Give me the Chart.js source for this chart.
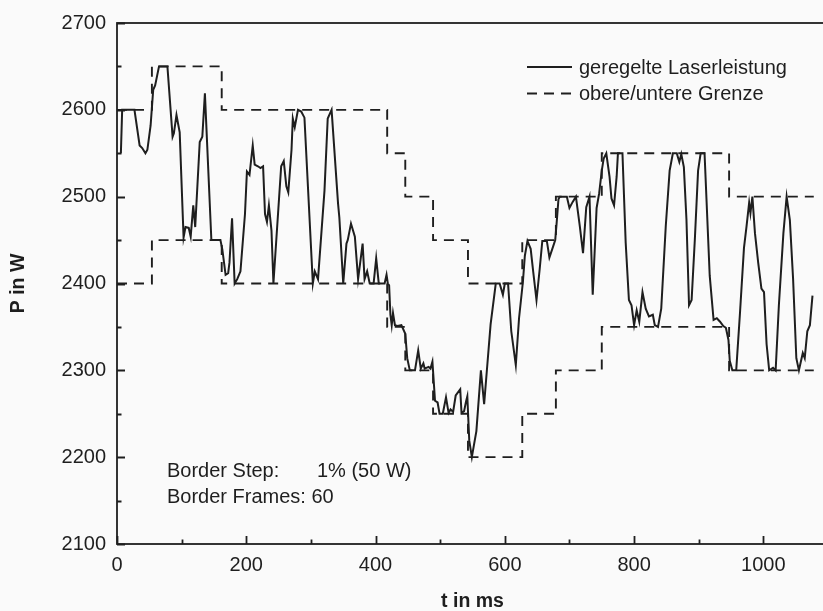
<!DOCTYPE html>
<html>
<head>
<meta charset="utf-8">
<script src="https://cdn.jsdelivr.net/npm/chart.js@4"></script>
<style>
  html, body { margin: 0; padding: 0; overflow: hidden; background: #fafafa; }
  #wrap { width: 823px; height: 611px; overflow: hidden; }
</style>
</head>
<body>
<div id="wrap"><canvas id="laserChart" width="828" height="611"></canvas></div>
<script>
// time axis (ms) and controlled laser power (W)
const powerTimes = [
  6, 8, 27, 35, 39, 44, 47, 52, 56, 59,
  65, 78, 86, 88, 92, 97, 103, 106, 111, 114,
  118, 121, 128, 132, 136, 146, 160, 163, 168, 172,
  174, 178, 182, 186, 191, 198, 201, 205, 210, 213,
  218, 222, 226, 229, 232, 235, 239, 242, 254, 258,
  262, 265, 270, 272, 275, 280, 285, 290, 303, 306,
  311, 321, 326, 332, 342, 344, 350, 355, 357, 362,
  368, 373, 380, 383, 387, 391, 397, 401, 405, 414,
  417, 419, 421, 423, 425, 427, 430, 434, 440, 446,
  449, 453, 461, 466, 470, 474, 476, 482, 485, 488,
  492, 496, 499, 504, 509, 513, 516, 520, 524, 531,
  533, 537, 540, 542, 545, 549, 552, 556, 563, 568,
  573, 578, 586, 592, 597, 600, 605, 610, 617, 622,
  628, 631, 635, 640, 644, 649, 654, 658, 665, 669,
  674, 678, 680, 683, 685, 696, 700, 705, 710, 716,
  721, 726, 731, 736, 742, 746, 750, 753, 757, 762,
  765, 769, 773, 775, 782, 787, 792, 796, 800, 804,
  808, 813, 818, 823, 829, 832, 837, 842, 849, 855,
  860, 866, 870, 873, 877, 881, 885, 889, 894, 899,
  903, 909, 917, 923, 928, 933, 938, 942, 946, 948,
  952, 958, 964, 970, 974, 978, 980, 983, 987, 992,
  997, 1001, 1005, 1009, 1015, 1019, 1024, 1031, 1036, 1041,
  1046, 1051, 1055, 1061, 1064, 1068, 1072, 1076
];
const powerValues = [
  2550, 2600, 2600, 2559, 2556, 2550, 2554, 2582, 2623, 2628,
  2650, 2650, 2569, 2573, 2594, 2574, 2453, 2465, 2464, 2454,
  2490, 2465, 2563, 2569, 2619, 2450, 2450, 2439, 2410, 2412,
  2424, 2475, 2400, 2405, 2414, 2480, 2529, 2525, 2559, 2537,
  2535, 2533, 2535, 2480, 2471, 2490, 2461, 2400, 2535, 2541,
  2512, 2505, 2554, 2590, 2580, 2600, 2598, 2591, 2400, 2414,
  2405, 2507, 2590, 2600, 2492, 2476, 2400, 2446, 2450, 2469,
  2454, 2405, 2446, 2405, 2414, 2400, 2400, 2429, 2400, 2400,
  2410, 2400, 2398, 2364, 2352, 2366, 2352, 2351, 2352, 2342,
  2314, 2300, 2300, 2323, 2302, 2308, 2302, 2304, 2302, 2310,
  2265, 2263, 2250, 2250, 2269, 2251, 2255, 2252, 2271, 2278,
  2251, 2253, 2264, 2270, 2219, 2200, 2213, 2230, 2300, 2261,
  2307, 2353, 2400, 2400, 2387, 2400, 2400, 2345, 2306, 2360,
  2402, 2432, 2449, 2440, 2413, 2381, 2417, 2449, 2449, 2430,
  2441, 2450, 2468, 2497, 2500, 2500, 2487, 2494, 2500, 2466,
  2435, 2488, 2500, 2387, 2487, 2504, 2530, 2544, 2550, 2523,
  2498, 2490, 2523, 2550, 2550, 2447, 2381, 2375, 2352, 2369,
  2356, 2390, 2371, 2362, 2364, 2352, 2350, 2371, 2466, 2530,
  2550, 2550, 2540, 2549, 2534, 2474, 2375, 2381, 2451, 2530,
  2550, 2550, 2409, 2358, 2360, 2356, 2351, 2349, 2335, 2311,
  2300, 2300, 2368, 2441, 2466, 2493, 2481, 2500, 2458, 2424,
  2394, 2390, 2330, 2300, 2303, 2300, 2375, 2458, 2500, 2473,
  2405, 2314, 2300, 2320, 2314, 2345, 2352, 2386
];

// border steps (upper / lower limit), each value holds until the next time
const limitTimes = [0, 54, 162, 418, 446, 489, 543, 627, 679, 750, 947, 1078];
const upperLimit = [2600, 2650, 2600, 2550, 2500, 2450, 2400, 2450, 2500, 2550, 2500, 2500];
const lowerLimit = [2400, 2450, 2400, 2350, 2300, 2250, 2200, 2250, 2300, 2350, 2300, 2300];

const xTicks = [0, 200, 400, 600, 800, 1000];
const yTicks = [2100, 2200, 2300, 2400, 2500, 2600, 2700];

const seriesNames = ['geregelte Laserleistung', 'obere/untere Grenze'];
const noteLines = [['Border Step:', '1% (50 W)'], ['Border Frames: 60', '']];

const FONT = '"Liberation Sans", Arial, sans-serif';
const INK = '#1e1e1e';
const DASH = [10, 7];

const toPoints = (xs, ys) => xs.map((t, i) => ({ x: t, y: ys[i] }));

const framePlugin = {
  id: 'framePlugin',
  afterDatasetsDraw(chart) {
    const { ctx, chartArea: a, scales: { x, y } } = chart;
    ctx.save();
    ctx.strokeStyle = INK;
    ctx.lineWidth = 1.8;
    ctx.strokeRect(a.left, a.top, a.right - a.left, a.bottom - a.top);

    // inward ticks, major + minor
    ctx.beginPath();
    for (let v = 0; v <= x.max; v += 100) {
      const px = Math.round(x.getPixelForValue(v)) + 0.5;
      const len = v % 200 === 0 ? 8 : 4.5;
      ctx.moveTo(px, a.bottom);
      ctx.lineTo(px, a.bottom - len);
    }
    for (let v = y.min; v <= y.max; v += 50) {
      const py = Math.round(y.getPixelForValue(v)) + 0.5;
      const len = v % 100 === 0 ? 8 : 4.5;
      ctx.moveTo(a.left, py);
      ctx.lineTo(a.left + len, py);
    }
    ctx.stroke();

    // legend
    ctx.lineWidth = 2;
    ctx.beginPath();
    ctx.moveTo(527, 67);
    ctx.lineTo(572, 67);
    ctx.stroke();
    ctx.setLineDash(DASH);
    ctx.beginPath();
    ctx.moveTo(527, 93.5);
    ctx.lineTo(572, 93.5);
    ctx.stroke();
    ctx.setLineDash([]);

    ctx.fillStyle = INK;
    ctx.font = '20px ' + FONT;
    ctx.textBaseline = 'alphabetic';
    ctx.textAlign = 'left';
    ctx.fillText(seriesNames[0], 579, 73.5);
    ctx.fillText(seriesNames[1], 579, 100);

    // parameter notes
    ctx.fillText(noteLines[0][0], 167, 477);
    ctx.fillText(noteLines[0][1], 317, 477);
    ctx.fillText(noteLines[1][0], 167, 503);
    ctx.restore();
  }
};

new Chart(document.getElementById('laserChart'), {
  type: 'line',
  data: {
    datasets: [
      {
        label: seriesNames[0],
        data: toPoints(powerTimes, powerValues),
        borderColor: INK,
        borderWidth: 2,
        pointRadius: 0,
        tension: 0
      },
      {
        label: seriesNames[1],
        data: toPoints(limitTimes, upperLimit),
        borderColor: INK,
        borderWidth: 1.9,
        borderDash: DASH,
        stepped: 'before',
        pointRadius: 0
      },
      {
        label: seriesNames[1] + ' (unten)',
        data: toPoints(limitTimes, lowerLimit),
        borderColor: INK,
        borderWidth: 1.9,
        borderDash: DASH,
        stepped: 'before',
        pointRadius: 0
      }
    ]
  },
  options: {
    responsive: false,
    devicePixelRatio: 1,
    animation: false,
    layout: { padding: { top: 16, right: 0, bottom: 0, left: 0 } },
    plugins: { legend: { display: false }, tooltip: { enabled: false } },
    scales: {
      x: {
        type: 'linear',
        min: 0,
        max: 1100,
        grid: { display: false, drawTicks: false },
        border: { display: false },
        afterBuildTicks: s => { s.ticks = xTicks.map(v => ({ value: v })); },
        afterFit: s => { s.height = 67; },
        ticks: { color: INK, font: { family: FONT, size: 20 }, padding: 9.5, maxRotation: 0, callback: v => String(v) },
        title: {
          display: true,
          text: 't in ms',
          color: INK,
          font: { family: FONT, size: 19.5, weight: 'bold', lineHeight: 1 },
          padding: { top: 0, bottom: 0 }
        }
      },
      y: {
        min: 2100,
        max: 2700,
        grid: { display: false, drawTicks: false },
        border: { display: false },
        afterBuildTicks: s => { s.ticks = yTicks.map(v => ({ value: v })); },
        afterFit: s => { s.width = 117; },
        ticks: { color: INK, font: { family: FONT, size: 20 }, padding: 11, callback: v => String(v) },
        title: {
          display: true,
          text: 'P in W',
          color: INK,
          font: { family: FONT, size: 19.5, weight: 'bold', lineHeight: 1 },
          padding: { top: 9, bottom: 0 }
        }
      }
    }
  },
  plugins: [framePlugin]
});
</script>
</body>
</html>
